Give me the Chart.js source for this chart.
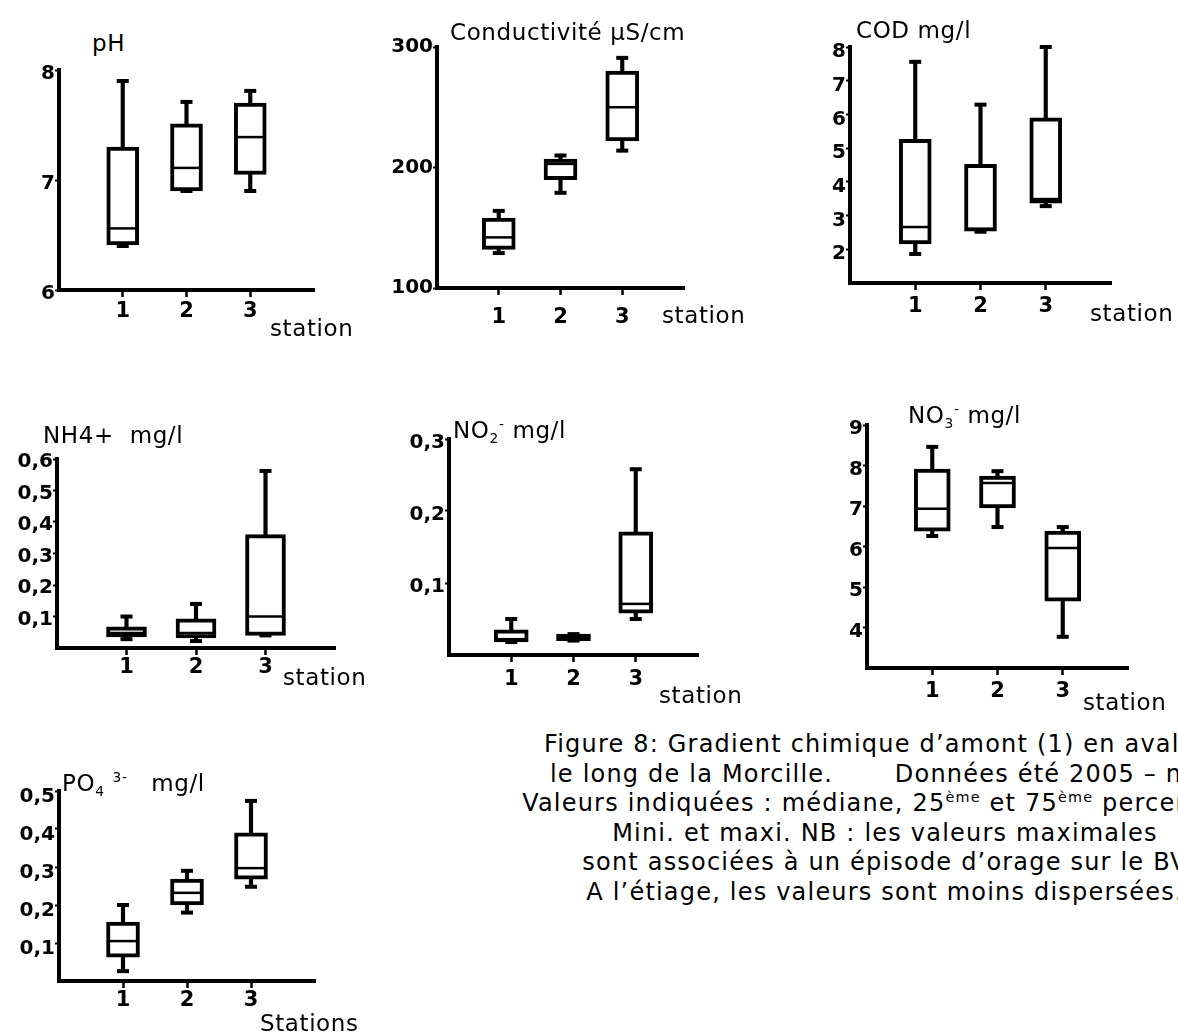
<!DOCTYPE html>
<html lang="fr">
<head>
<meta charset="utf-8">
<title>Gradient chimique le long de la Morcille</title>
<script src="https://cdn.jsdelivr.net/npm/chart.js@4.4.1/dist/chart.umd.min.js"></script>
<style>
  html, body { margin: 0; padding: 0; background: #fff; }
  body {
    width: 1178px; height: 1032px; position: relative; overflow: hidden;
    font-family: "Comic Sans MS", "DejaVu Sans", sans-serif; color: #000;
  }
  canvas { position: absolute; }
  .lbl {
    position: absolute; white-space: nowrap; line-height: 1;
    transform: translateY(-50%); font-size: 23px; letter-spacing: 0.6px;
  }
  .lbl sub, .lbl sup, .caption sup { font-size: 0.6em; line-height: 0; }
  .caption {
    position: absolute; left: 455px; width: 860px; top: 730px;
    text-align: center; font-size: 24px; letter-spacing: 1.2px;
    line-height: 29.6px; white-space: nowrap;
  }
</style>
</head>
<body>

<canvas id="phChart"></canvas>
<canvas id="condChart"></canvas>
<canvas id="codChart"></canvas>
<canvas id="nh4Chart"></canvas>
<canvas id="no2Chart"></canvas>
<canvas id="no3Chart"></canvas>
<canvas id="po4Chart"></canvas>

<div class="lbl" style="left:92px; top:43px;">pH</div>
<div class="lbl" style="left:450px; top:32px;">Conductivité μS/cm</div>
<div class="lbl" style="left:856px; top:30px;">COD mg/l</div>
<div class="lbl" style="left:43px; top:435px;">NH4+&nbsp; mg/l</div>
<div class="lbl" style="left:453px; top:430px;">NO<sub>2</sub><sup>-</sup> mg/l</div>
<div class="lbl" style="left:908px; top:415px;">NO<sub>3</sub><sup>-</sup> mg/l</div>
<div class="lbl" style="left:62px; top:783px;">PO<sub>4</sub> <sup>3-</sup>&nbsp;&nbsp; mg/l</div>

<div class="lbl" style="left:270px; top:328px;">station</div>
<div class="lbl" style="left:662px; top:315px;">station</div>
<div class="lbl" style="left:1090px; top:313px;">station</div>
<div class="lbl" style="left:283px; top:677px;">station</div>
<div class="lbl" style="left:659px; top:695px;">station</div>
<div class="lbl" style="left:1083px; top:702px;">station</div>
<div class="lbl" style="left:260px; top:1023px;">Stations</div>

<div class="caption">
Figure 8: Gradient chimique d’amont (1) en aval (3)<br>
le long de la Morcille.&nbsp;&nbsp;&nbsp;&nbsp;&nbsp;&nbsp; Données été 2005 – n=5<br>
Valeurs indiquées : médiane, 25<sup>ème</sup> et 75<sup>ème</sup> percentiles<br>
Mini. et maxi. NB : les valeurs maximales<br>
sont associées à un épisode d’orage sur le BV<br>
A l’étiage, les valeurs sont moins dispersées.
</div>

<script>
const stations = [1, 2, 3];

// une ligne par station : [mini, 25e percentile, médiane, 75e percentile, maxi]
const phBoxes = [[6.40, 6.41, 6.56, 7.30, 7.90], [6.90, 6.90, 7.11, 7.51, 7.71], [6.90, 7.05, 7.39, 7.70, 7.81]];
const condBoxes = [[129, 132, 142, 158, 164], [179, 190, 203, 207, 210], [214, 222, 250, 280, 291]];
const codBoxes = [[1.86, 2.16, 2.66, 5.26, 7.56], [2.52, 2.54, 2.60, 4.52, 6.29], [3.28, 3.37, 3.49, 5.90, 8.00]];
const nh4Boxes = [[0.028, 0.035, 0.048, 0.067, 0.10], [0.022, 0.032, 0.048, 0.093, 0.14], [0.04, 0.04, 0.10, 0.36, 0.562]];
const no2Boxes = [[0.018, 0.018, 0.022, 0.035, 0.05], [0.02, 0.02, 0.025, 0.029, 0.029], [0.05, 0.058, 0.071, 0.171, 0.258]];
const no3Boxes = [[6.26, 6.38, 6.93, 7.91, 8.46], [6.48, 6.95, 7.57, 7.74, 7.86], [3.77, 4.65, 5.96, 6.38, 6.48]];
const po4Boxes = [[0.026, 0.063, 0.105, 0.155, 0.20], [0.18, 0.20, 0.232, 0.268, 0.29], [0.248, 0.268, 0.297, 0.39, 0.474]];

// graduations de l'axe vertical
const phTicks = [6, 7, 8];
const condTicks = [100, 200, 300];
const codTicks = [2, 3, 4, 5, 6, 7, 8];
const nh4Ticks = [0.1, 0.2, 0.3, 0.4, 0.5, 0.6];
const no2Ticks = [0.1, 0.2, 0.3];
const no3Ticks = [4, 5, 6, 7, 8, 9];
const po4Ticks = [0.1, 0.2, 0.3, 0.4, 0.5];

const FONT = '"Comic Sans MS", "DejaVu Sans", sans-serif';
const Y_AXIS_W = 60;
const X_AXIS_H = 48;
const PAD = 14;

// médianes et barres de fin des moustaches
const boxMarks = {
  id: "boxMarks",
  afterDatasetsDraw(chart, args, opts) {
    const { ctx } = chart;
    const x = chart.scales.x;
    const y = chart.scales.y;
    ctx.save();
    ctx.strokeStyle = "#000";
    opts.boxes.forEach((b, i) => {
      const cx = x.getPixelForValue(stations[i]);
      ctx.lineWidth = 4;
      [b[0], b[4]].forEach((v) => {
        const py = y.getPixelForValue(v);
        ctx.beginPath();
        ctx.moveTo(cx - 6, py);
        ctx.lineTo(cx + 6, py);
        ctx.stroke();
      });
      const my = y.getPixelForValue(b[2]);
      ctx.lineWidth = 2.5;
      ctx.beginPath();
      ctx.moveTo(cx - opts.boxWidth / 2 + 2, my);
      ctx.lineTo(cx + opts.boxWidth / 2 - 2, my);
      ctx.stroke();
    });
    ctx.restore();
  },
};

function frNumber(v) {
  return String(v).replace(".", ",");
}

// panel: left/top/right/bottom = bords de la zone de tracé
function createBoxChart(chartId, boxes, yMin, yMax, yTicks, panel) {
  const canvas = document.getElementById(chartId);
  canvas.width = panel.right - panel.left + Y_AXIS_W + PAD;
  canvas.height = panel.bottom - panel.top + X_AXIS_H + PAD;
  canvas.style.left = panel.left - Y_AXIS_W + "px";
  canvas.style.top = panel.top - PAD + "px";

  new Chart(canvas, {
    type: "bar",
    data: {
      datasets: [
        {
          data: boxes.map((b, i) => ({ x: stations[i], y: [b[1], b[3]] })),
          backgroundColor: "#fff",
          borderColor: "#000",
          borderWidth: 4,
          borderSkipped: false,
          barThickness: panel.boxWidth,
          grouped: false,
          order: 0,
        },
        {
          data: boxes.map((b, i) => ({ x: stations[i], y: [b[0], b[4]] })),
          backgroundColor: "#000",
          borderWidth: 0,
          barThickness: 3.5,
          grouped: false,
          order: 1,
        },
      ],
    },
    options: {
      responsive: false,
      maintainAspectRatio: false,
      animation: false,
      layout: { padding: { left: 0, top: PAD, right: PAD, bottom: 0 } },
      plugins: {
        legend: { display: false },
        tooltip: { enabled: false },
        boxMarks: { boxes: boxes, boxWidth: panel.boxWidth },
      },
      scales: {
        x: {
          type: "linear",
          min: 0,
          max: 4,
          offset: false,
          afterBuildTicks: (axis) => {
            axis.ticks = stations.map((v) => ({ value: v }));
          },
          afterFit: (axis) => {
            axis.height = X_AXIS_H;
          },
          grid: { offset: false, drawOnChartArea: false, drawTicks: true, tickLength: 7, tickWidth: 2.5, tickColor: "#000" },
          border: { display: true, width: 4, color: "#000" },
          ticks: { color: "#000", padding: panel.xPad, maxRotation: 0, font: { family: FONT, size: 21, weight: "bold" } },
        },
        y: {
          type: "linear",
          min: yMin,
          max: yMax,
          afterBuildTicks: (axis) => {
            axis.ticks = yTicks.map((v) => ({ value: v }));
          },
          afterFit: (axis) => {
            axis.width = Y_AXIS_W;
          },
          grid: { drawOnChartArea: false, drawTicks: true, tickLength: 4, tickWidth: 2, tickColor: "#000" },
          border: { display: true, width: 4, color: "#000" },
          ticks: {
            color: "#000",
            padding: 0,
            labelOffset: panel.labelOffset,
            font: { family: FONT, size: 20, weight: "bold" },
            callback: (v) => frNumber(v),
          },
        },
      },
    },
    plugins: [boxMarks],
  });
}

createBoxChart("phChart", phBoxes, 6, 8, phTicks,
  { left: 59, top: 70, right: 314, bottom: 290, boxWidth: 32, xPad: 2, labelOffset: 4 });
createBoxChart("condChart", condBoxes, 100, 300, condTicks,
  { left: 437, top: 47, right: 684, bottom: 288, boxWidth: 33, xPad: 10, labelOffset: 0 });
createBoxChart("codChart", codBoxes, 1, 8, codTicks,
  { left: 850, top: 47, right: 1111, bottom: 283, boxWidth: 32, xPad: 4, labelOffset: 5 });
createBoxChart("nh4Chart", nh4Boxes, 0, 0.6, nh4Ticks,
  { left: 57, top: 459, right: 335, bottom: 648, boxWidth: 40, xPad: 0, labelOffset: 3 });
createBoxChart("no2Chart", no2Boxes, 0, 0.3, no2Ticks,
  { left: 449, top: 439, right: 698, bottom: 655, boxWidth: 34, xPad: 5, labelOffset: 4 });
createBoxChart("no3Chart", no3Boxes, 3, 9, no3Ticks,
  { left: 867, top: 425, right: 1128, bottom: 668, boxWidth: 36, xPad: 4, labelOffset: 4 });
createBoxChart("po4Chart", po4Boxes, 0, 0.5, po4Ticks,
  { left: 59, top: 791, right: 315, bottom: 981, boxWidth: 33, xPad: 0, labelOffset: 6 });
</script>
</body>
</html>
